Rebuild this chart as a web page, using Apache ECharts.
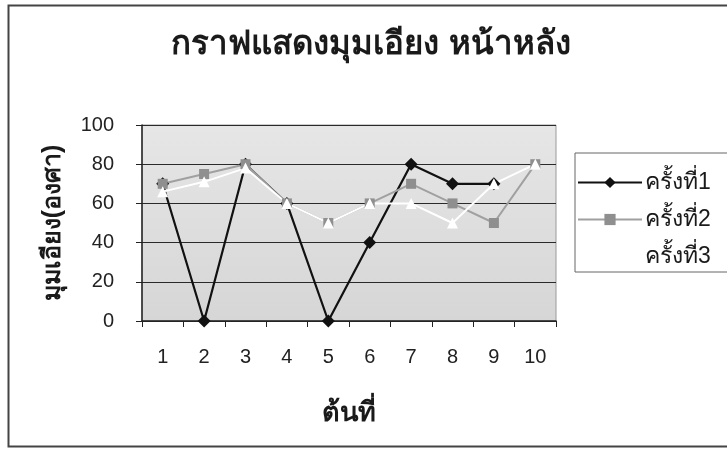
<!DOCTYPE html>
<html>
<head>
<meta charset="utf-8">
<script src="https://cdn.jsdelivr.net/npm/echarts@6/dist/echarts.min.js"></script>
<style>html,body{margin:0;padding:0;background:#fff}#c{width:727px;height:449px}</style>
</head>
<body>
<div id="c"></div>
<script>
const categories = ['1','2','3','4','5','6','7','8','9','10'];
const seriesNames = ['ครั้งที่1','ครั้งที่2','ครั้งที่3'];
const round1 = [70, 0, 80, 60, 0, 40, 80, 70, 70, null];
const round2 = [70, 75, 80, 60, 50, 60, 70, 60, 50, 80];
const round3 = [66, 71, 78, 60, 50, 60, 60, 50, 70, 80];
const yTicks = {min: 0, max: 100, interval: 20};

const FONT = '"Liberation Sans", Arial, sans-serif';
const chart = echarts.init(document.getElementById('c'), null, {renderer: 'canvas'});
chart.setOption({
  backgroundColor: '#fff',
  animation: false,
  graphic: [{
    type: 'rect', shape: {x: 8.5, y: 5.5, width: 740, height: 441},
    style: {fill: 'none', stroke: '#444', lineWidth: 2}, z: -1
  }],
  title: {
    text: 'กราฟแสดงมุมเอียง หน้าหลัง',
    left: 366, top: 23, textAlign: 'center',
    textStyle: {fontFamily: FONT, fontSize: 33, fontWeight: 'bold', color: '#1a1a1a'}
  },
  legend: {
    orient: 'vertical', left: 575, top: 153,
    width: 160,
    padding: [18, 30, 4, 2],
    borderColor: '#666', borderWidth: 1,
    itemWidth: 64, itemHeight: 14, itemGap: 14,
    textStyle: {fontFamily: FONT, fontSize: 23, color: '#1a1a1a', padding: [0,0,0,-2]},
    data: seriesNames
  },
  grid: {
    left: 142, right: 171, top: 125, bottom: 128,
    show: true, borderColor: '#9a9a9a', borderWidth: 1,
    backgroundColor: {type: 'linear', x: 0, y: 0, x2: 0, y2: 1,
      colorStops: [{offset: 0, color: '#e6e6e6'}, {offset: 1, color: '#d6d6d6'}]}
  },
  xAxis: {
    type: 'category', data: categories, boundaryGap: true,
    name: 'ต้นที่', nameLocation: 'middle', nameGap: 79,
    nameTextStyle: {fontFamily: FONT, fontSize: 27, fontWeight: 'bold', color: '#1a1a1a'},
    axisLine: {lineStyle: {color: '#222', width: 1.5}},
    axisTick: {show: true, alignWithLabel: false, length: 6, lineStyle: {color: '#222'}},
    axisLabel: {fontFamily: FONT, fontSize: 20, color: '#222', margin: 26},
    splitLine: {show: false}
  },
  yAxis: {
    type: 'value', min: yTicks.min, max: yTicks.max, interval: yTicks.interval,
    name: 'มุมเอียง(องศา)', nameLocation: 'middle', nameGap: 76, nameRotate: 90,
    nameTextStyle: {fontFamily: FONT, fontSize: 25, fontWeight: 'bold', color: '#1a1a1a'},
    axisLine: {show: true, lineStyle: {color: '#222', width: 1.5}},
    axisTick: {show: true, length: 6, lineStyle: {color: '#222'}},
    axisLabel: {fontFamily: FONT, fontSize: 20, color: '#222', margin: 28},
    splitLine: {show: true, lineStyle: {color: '#2a2a2a', width: 1}}
  },
  series: [
    {name: seriesNames[0], type: 'line', data: round1, symbol: 'diamond', symbolSize: 13,
     connectNulls: false,
     lineStyle: {color: '#111', width: 2.2}, itemStyle: {color: '#111'}},
    {name: seriesNames[1], type: 'line', data: round2, symbol: 'rect', symbolSize: 10,
     lineStyle: {color: '#a0a0a0', width: 2}, itemStyle: {color: '#8f8f8f'}},
    {name: seriesNames[2], type: 'line', data: round3, symbol: 'triangle', symbolSize: 11,
     lineStyle: {color: '#ffffff', width: 2}, itemStyle: {color: '#ffffff'}}
  ]
});
</script>
</body>
</html>
